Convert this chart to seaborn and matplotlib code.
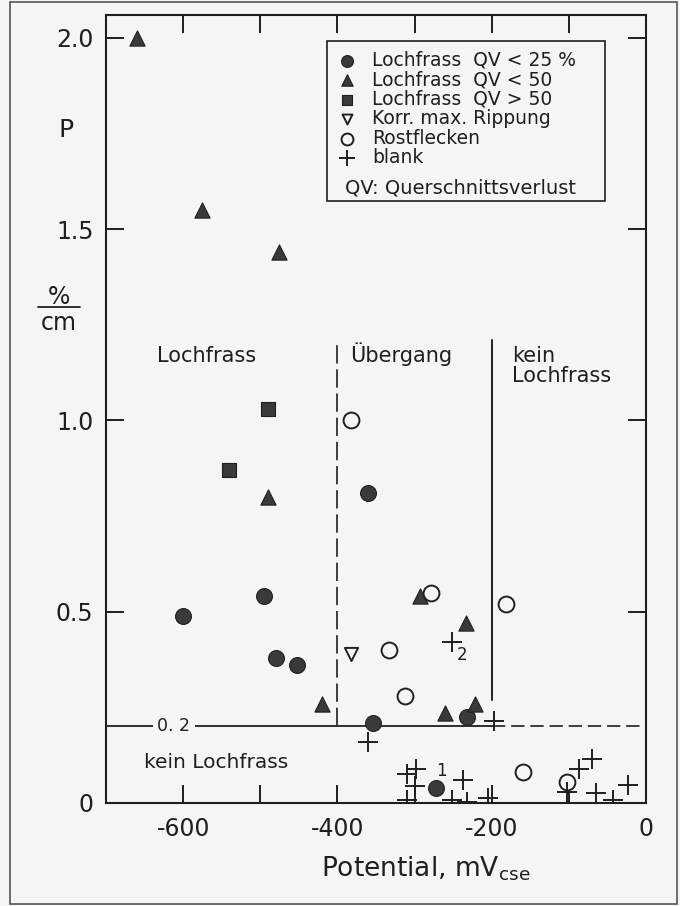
import numpy as np
import pandas as pd
import matplotlib
matplotlib.use('Agg')
import matplotlib.pyplot as plt
import seaborn as sns
from matplotlib.patches import Rectangle
from matplotlib.lines import Line2D

# potential in mV_cse, P in %/cm
lf25_x = [-600, -495, -480, -453, -360, -354, -232, -272]
lf25_y = [0.49, 0.54, 0.38, 0.36, 0.81, 0.21, 0.225, 0.04]

lf50_x = [-660, -576, -476, -490, -420, -293, -233, -222, -261]
lf50_y = [2.0, 1.55, 1.44, 0.80, 0.26, 0.54, 0.47, 0.26, 0.235]

lf50p_x = [-490, -540]
lf50p_y = [1.03, 0.87]

ripp_x = [-383]
ripp_y = [0.39]

rost_x = [-383, -279, -182, -333, -313, -160, -102]
rost_y = [1.00, 0.55, 0.52, 0.40, 0.28, 0.08, 0.055]

blank_x = [-252, -197, -361, -310, -298, -300, -310, -237, -252, -232, -205,
           -103, -87, -70, -65, -43, -23]
blank_y = [0.42, 0.215, 0.16, 0.075, 0.09, 0.045, 0.008, 0.06, 0.008, 0.003, 0.012,
           0.03, 0.09, 0.115, 0.025, 0.008, 0.047]

labels = ['Lochfrass  QV < 25 %', 'Lochfrass  QV < 50', 'Lochfrass  QV > 50',
          'Korr. max. Rippung', 'Rostflecken', 'blank']

# region boundaries
p_limit = 0.2
e_lochfrass = -400
e_kein = -200
top_bound = 1.21

xticks = [-600, -500, -400, -300, -200, -100, 0]
xticklabels = ['-600', '', '-400', '', '-200', '', '0']
yticks = [0, 0.5, 1.0, 1.5, 2.0]
yticklabels = ['0', '0.5', '1.0', '1.5', '2.0']

bg = '#f5f5f4'
dark = '#3a3a3a'
ink = '#1f1f1f'

sns.set_theme(style='ticks')
plt.rcParams['font.family'] = ['DejaVu Sans']
plt.rcParams['text.color'] = ink

fig = plt.figure(figsize=(6.8, 9.06), dpi=100, facecolor=bg)
ax = fig.add_axes([0.1559, 0.1137, 0.7941, 0.8697])
ax.set_facecolor(bg)

# region lines
ax.plot([-700, e_kein], [p_limit, p_limit], color=ink, lw=1.3, zorder=1)
ax.plot([e_kein, 0], [p_limit, p_limit], color=ink, lw=1.2, dashes=(8, 3.5), zorder=1)
ax.plot([e_lochfrass, e_lochfrass], [p_limit, top_bound], color=ink, lw=1.2,
        dashes=(11, 3.5), zorder=1)
ax.plot([e_kein, e_kein], [0.27, top_bound], color=ink, lw=1.4, zorder=1)

sns.scatterplot(x=lf25_x, y=lf25_y, marker='o', s=130, color=dark, edgecolor=ink,
                linewidth=0.8, ax=ax, label=labels[0], zorder=3)
sns.scatterplot(x=lf50_x, y=lf50_y, marker='^', s=120, color=dark, edgecolor=ink,
                linewidth=0.8, ax=ax, label=labels[1], zorder=3)
sns.scatterplot(x=lf50p_x, y=lf50p_y, marker='s', s=110, color=dark, edgecolor=ink,
                linewidth=0.8, ax=ax, label=labels[2], zorder=3)
sns.scatterplot(x=ripp_x, y=ripp_y, marker='v', s=90, facecolors=bg, edgecolor=ink,
                linewidth=1.4, ax=ax, label=labels[3], zorder=3)
sns.scatterplot(x=rost_x, y=rost_y, marker='o', s=130, facecolors=bg, edgecolor=ink,
                linewidth=1.4, ax=ax, label=labels[4], zorder=3)
sns.scatterplot(x=blank_x, y=blank_y, marker='+', s=220, color=ink,
                linewidth=1.4, ax=ax, label=labels[5], zorder=3)

ax.set_xlim(-700, 0)
ax.set_ylim(0, 2.06)
ax.set_xticks(xticks)
ax.set_xticklabels(xticklabels)
ax.set_yticks(yticks)
ax.set_yticklabels(yticklabels)
ax.tick_params(direction='in', length=13, width=1.4, color=ink, labelsize=17,
               labelcolor=ink, top=True, right=True)
ax.tick_params(axis='x', pad=10)
ax.tick_params(axis='y', pad=9)
for s in ax.spines.values():
    s.set_linewidth(1.5)
    s.set_color(ink)

ax.set_xlabel('Potential, mV$_{\\mathregular{cse}}$', fontsize=19, color=ink)
ax.xaxis.set_label_coords(0.592, -0.066)
ax.set_ylabel('')

# legend
leg = ax.legend(loc='upper left', bbox_to_anchor=(0.428, 0.955), frameon=False,
                fontsize=13.5, handlelength=1.1, handletextpad=0.75, labelspacing=0.03,
                borderpad=0, borderaxespad=0, markerscale=0.75)
ax.add_patch(Rectangle((0.409, 0.764), 0.515, 0.203, transform=ax.transAxes,
                       fill=False, edgecolor=ink, lw=1.2, zorder=4))
ax.text(0.4426, 0.780, 'QV: Querschnittsverlust', transform=ax.transAxes,
        fontsize=14, va='center', ha='left')

# region labels
ax.text(-634, 1.152, 'Lochfrass', fontsize=15, ha='left', va='baseline')
ax.text(-384, 1.152, 'Übergang', fontsize=15, ha='left', va='baseline')
ax.text(-174, 1.152, 'kein', fontsize=15, ha='left', va='baseline')
ax.text(-174, 1.100, 'Lochfrass', fontsize=15, ha='left', va='baseline')
ax.text(-651, 0.092, 'kein Lochfrass', fontsize=14.5, ha='left', va='baseline')
ax.text(-612, p_limit, '0. 2', fontsize=12.5, ha='center', va='center',
        bbox=dict(facecolor=bg, edgecolor='none', pad=3), zorder=2)
ax.text(-265, 0.084, '1', fontsize=12, ha='center', va='center')
ax.text(-239, 0.387, '2', fontsize=12, ha='center', va='center')

# y axis label P in %/cm
fig.text(66 / 680, 1 - 130 / 906, 'P', fontsize=18, ha='center', va='center')
fig.text(59 / 680, 1 - 297 / 906, '%', fontsize=17, ha='center', va='center')
fig.text(59 / 680, 1 - 323 / 906, 'cm', fontsize=17, ha='center', va='center')
fig.add_artist(Line2D([38 / 680, 80 / 680], [1 - 307 / 906, 1 - 307 / 906],
                      color=ink, lw=1.3, transform=fig.transFigure))

# outer frame
fig.add_artist(Rectangle((10 / 680, 2 / 906), 667 / 680, 902 / 906,
                         transform=fig.transFigure, fill=False, edgecolor='#555555', lw=1.2))

fig.savefig('out.png', dpi=100, facecolor=bg)
